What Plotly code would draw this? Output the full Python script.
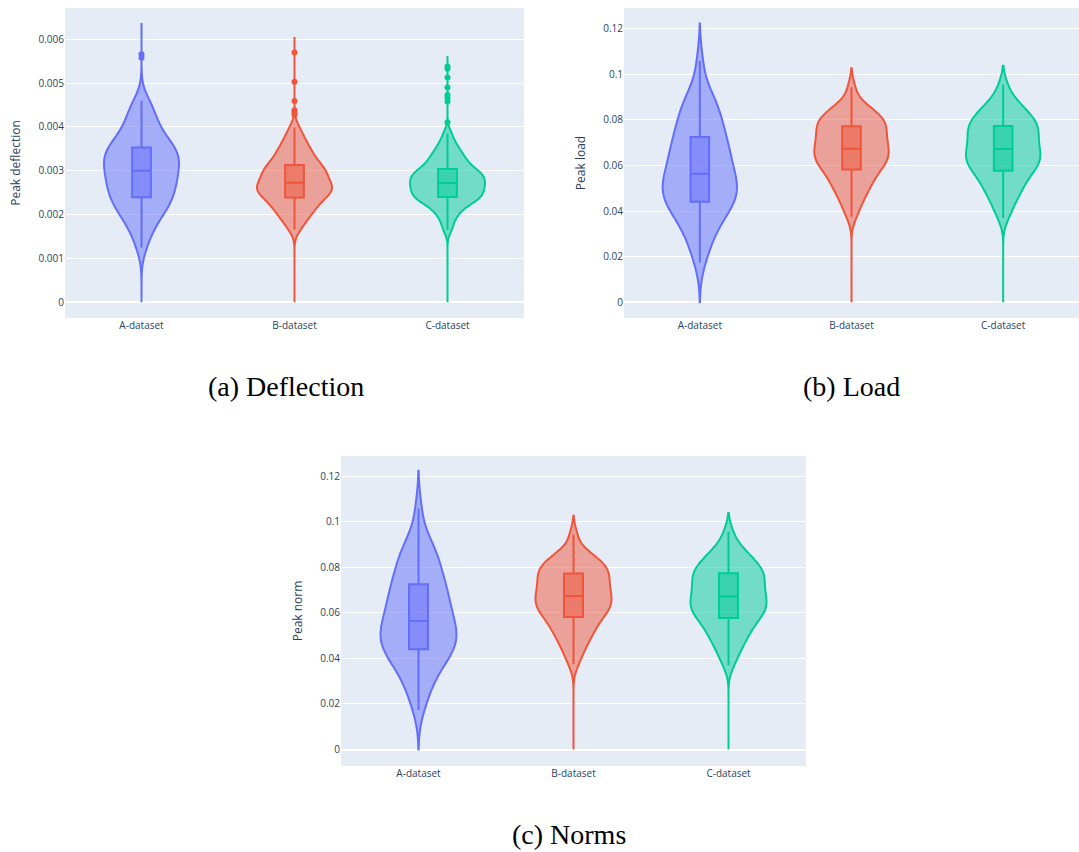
import plotly.graph_objects as go

categories = ["A-dataset", "B-dataset", "C-dataset"]

# ---- Peak deflection (core samples, outliers listed separately) ----
defl_A = [0.00125, 0.00148, 0.00165, 0.00178, 0.00188, 0.00196, 0.00203, 0.00210, 0.00216, 0.00222,
          0.00228, 0.00233, 0.00237,
          0.00242, 0.00247, 0.00252, 0.00257, 0.00261, 0.00266, 0.00271, 0.00275, 0.00280, 0.00285,
          0.00289, 0.00294, 0.00298,
          0.00302, 0.00306, 0.00311, 0.00315, 0.00319, 0.00324, 0.00328, 0.00332, 0.00336, 0.00340,
          0.00344, 0.00348, 0.00351,
          0.00355, 0.00360, 0.00366, 0.00372, 0.00379, 0.00386, 0.00394, 0.00403, 0.00413, 0.00424,
          0.00436, 0.00448, 0.00460]
defl_A_out = [0.00558, 0.00566]

defl_B = [0.00166, 0.00179, 0.00188, 0.00195, 0.00201, 0.00207, 0.00212, 0.00217, 0.00221, 0.00225,
          0.00229, 0.00233, 0.00237,
          0.00241, 0.00244, 0.00246, 0.00249, 0.00251, 0.00254, 0.00256, 0.00259, 0.00261, 0.00264,
          0.00266, 0.00268, 0.00271,
          0.00274, 0.00277, 0.00280, 0.00283, 0.00287, 0.00290, 0.00293, 0.00296, 0.00299, 0.00302,
          0.00305, 0.00308, 0.00311,
          0.00315, 0.00319, 0.00324, 0.00329, 0.00333, 0.00339, 0.00344, 0.00350, 0.00357, 0.00364,
          0.00373, 0.00384, 0.00399]
defl_B_out = [0.00428, 0.00433, 0.00438, 0.00459, 0.00503, 0.00570]

defl_C = [0.00165, 0.00182, 0.00194, 0.00203, 0.00210, 0.00216, 0.00221, 0.00225, 0.00229, 0.00232,
          0.00235, 0.00237, 0.00239,
          0.00242, 0.00244, 0.00247, 0.00249, 0.00252, 0.00254, 0.00257, 0.00259, 0.00262, 0.00264,
          0.00267, 0.00269, 0.00271,
          0.00273, 0.00276, 0.00278, 0.00281, 0.00283, 0.00285, 0.00288, 0.00290, 0.00293, 0.00295,
          0.00297, 0.00300, 0.00302,
          0.00306, 0.00310, 0.00314, 0.00318, 0.00322, 0.00327, 0.00332, 0.00337, 0.00343, 0.00350,
          0.00358, 0.00368, 0.00385]
defl_C_out = [0.00411, 0.00458, 0.00466, 0.00473, 0.00490, 0.00513, 0.00533, 0.00538]

# ---- Peak load ----
load_A = [0.0174, 0.0225, 0.0262, 0.0292, 0.0317, 0.0338, 0.0357, 0.0374, 0.0389, 0.0403, 0.0416,
          0.0428, 0.0437,
          0.0444, 0.0453, 0.0463, 0.0472, 0.0481, 0.0490, 0.0499, 0.0508, 0.0518, 0.0528, 0.0538,
          0.0548, 0.0558,
          0.0569, 0.0581, 0.0593, 0.0605, 0.0617, 0.0629, 0.0641, 0.0653, 0.0666, 0.0679, 0.0692,
          0.0705, 0.0718,
          0.0733, 0.0745, 0.0760, 0.0778, 0.0797, 0.0815, 0.0832, 0.0850, 0.0868, 0.0888, 0.0912,
          0.0950, 0.1058]
load_B = [0.0375, 0.0415, 0.0440, 0.0461, 0.0479, 0.0495, 0.0509, 0.0522, 0.0534, 0.0545, 0.0556,
          0.0566, 0.0576,
          0.0588, 0.0595, 0.0602, 0.0609, 0.0616, 0.0623, 0.0630, 0.0637, 0.0644, 0.0651, 0.0658,
          0.0665, 0.0671,
          0.0677, 0.0685, 0.0692, 0.0700, 0.0707, 0.0715, 0.0722, 0.0730, 0.0737, 0.0745, 0.0752,
          0.0760, 0.0768,
          0.0776, 0.0782, 0.0789, 0.0796, 0.0803, 0.0811, 0.0819, 0.0828, 0.0838, 0.0849, 0.0863,
          0.0882, 0.0943]
load_C = [0.0370, 0.0408, 0.0434, 0.0455, 0.0473, 0.0489, 0.0503, 0.0516, 0.0528, 0.0540, 0.0552,
          0.0562, 0.0572,
          0.0582, 0.0589, 0.0596, 0.0604, 0.0611, 0.0618, 0.0625, 0.0633, 0.0640, 0.0647, 0.0654,
          0.0661, 0.0668,
          0.0676, 0.0684, 0.0692, 0.0700, 0.0708, 0.0716, 0.0724, 0.0732, 0.0740, 0.0748, 0.0756,
          0.0764, 0.0770,
          0.0777, 0.0785, 0.0793, 0.0801, 0.0810, 0.0819, 0.0829, 0.0840, 0.0852, 0.0866, 0.0883,
          0.0905, 0.0955]

# ---- Peak norm (identical to load in the reference) ----
norm_A = list(load_A)
norm_B = list(load_B)
norm_C = list(load_C)

# violin extents (data units) and kernel bandwidths
defl_top = [0.00637, 0.00605, 0.00562]
load_top = [0.1223, 0.1026, 0.1038]
norm_top = [0.1223, 0.1026, 0.1038]
defl_bw = [0.00028, 0.00016, 0.00013]
load_bw = [0.0072, 0.0038, 0.0040]

colors = ["#636efa", "#EF553B", "#00cc96"]

W, H = 1079, 852

panels = [
    dict(data=[defl_A, defl_B, defl_C], outl=[defl_A_out, defl_B_out, defl_C_out], top=defl_top,
         bw=defl_bw, title="Peak deflection", px=(65, 524), py=(8, 318), yr=(-0.000358, 0.006714),
         dtick=0.001),
    dict(data=[load_A, load_B, load_C], outl=[[], [], []], top=load_top, bw=load_bw,
         title="Peak load", px=(624, 1079), py=(8, 318), yr=(-0.00689, 0.12908), dtick=0.02),
    dict(data=[norm_A, norm_B, norm_C], outl=[[], [], []], top=norm_top, bw=load_bw,
         title="Peak norm", px=(341, 806), py=(456, 766), yr=(-0.0072, 0.12878), dtick=0.02),
]

fig = go.Figure()
layout = {}
for i, p in enumerate(panels):
    sfx = "" if i == 0 else str(i + 1)
    xa, ya = "x" + sfx, "y" + sfx
    for j, cat in enumerate(categories):
        vals = p["data"][j]
        fig.add_trace(go.Violin(
            x=[cat] * len(vals), y=vals, name=cat, xaxis=xa, yaxis=ya,
            scalegroup=f"{p['title']}|{cat}",
            line=dict(color=colors[j]), box=dict(visible=True), points=False,
            spanmode="manual", span=[0, p["top"][j]], bandwidth=p["bw"][j],
            showlegend=False, hoverinfo="skip"))
        if p["outl"][j]:
            fig.add_trace(go.Scatter(
                x=[cat] * len(p["outl"][j]), y=p["outl"][j], mode="markers", xaxis=xa, yaxis=ya,
                marker=dict(color=colors[j], size=6), showlegend=False, hoverinfo="skip"))
    layout["xaxis" + sfx] = dict(
        domain=[p["px"][0] / W, p["px"][1] / W], anchor=ya, type="category",
        categoryorder="array", categoryarray=categories, range=[-0.5, 2.5],
        tickfont=dict(size=10), automargin=False)
    layout["yaxis" + sfx] = dict(
        domain=[1 - p["py"][1] / H, 1 - p["py"][0] / H], anchor=xa, range=list(p["yr"]),
        dtick=p["dtick"], tick0=0, tickfont=dict(size=10), automargin=False,
        title=dict(text=p["title"], font=dict(size=12)))

captions = [("(a) Deflection", 285.5, 387), ("(b) Load", 851, 387), ("(c) Norms", 569, 834)]
annotations = [dict(text=t, x=cx / W, y=1 - cy / H, xref="paper", yref="paper",
                    xanchor="center", yanchor="middle", showarrow=False,
                    font=dict(family="Liberation Serif", size=28, color="black"))
               for t, cx, cy in captions]

fig.update_layout(
    template="plotly", width=W, height=H, autosize=False,
    margin=dict(l=0, r=0, t=0, b=0), paper_bgcolor="white",
    violinmode="overlay", annotations=annotations, **layout)

fig.write_html("out.html")
